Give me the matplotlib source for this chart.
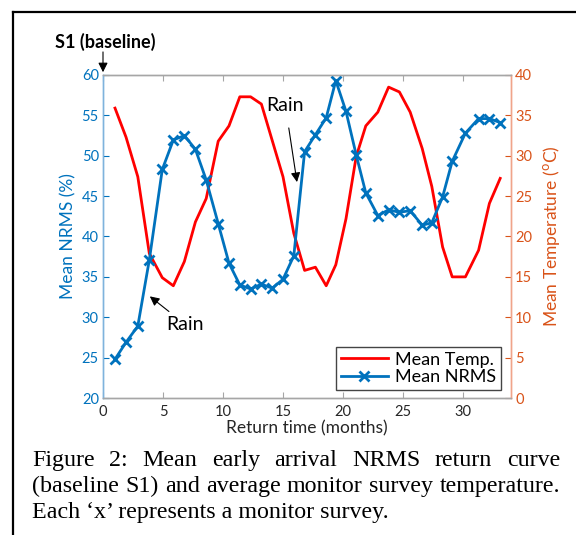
import matplotlib
matplotlib.use("Agg")
import matplotlib.pyplot as plt
from matplotlib.lines import Line2D

# survey return times (months) and values
months = [1.0, 1.92, 2.9, 3.86, 4.94, 5.86, 6.78, 7.7, 8.6, 9.6, 10.5, 11.4,
          12.3, 13.2, 14.1, 15.0, 15.9, 16.8, 17.7, 18.6, 19.4, 20.25, 21.1, 21.9,
          22.9, 23.8, 24.7, 25.6, 26.6, 27.4, 28.3, 29.1, 30.2, 31.3, 32.2, 33.1]
nrms = [24.8, 26.9, 28.9, 37.1, 48.3, 51.95, 52.5, 50.8, 47.0, 41.6, 36.7, 34.0,
        33.5, 34.1, 33.6, 34.7, 37.6, 50.5, 52.6, 54.7, 59.3, 55.5, 50.1, 45.4,
        42.6, 43.3, 43.0, 43.2, 41.4, 41.7, 44.9, 49.3, 52.8, 54.6, 54.6, 54.1]
temp = [35.9, 32.3, 27.4, 17.9, 14.9, 13.9, 16.9, 21.8, 24.7, 31.8, 33.7, 37.3,
        37.3, 36.4, 31.9, 27.4, 20.4, 15.8, 16.2, 13.9, 16.5, 22.2, 29.9, 33.7,
        35.4, 38.5, 37.9, 35.4, 30.9, 26.2, 18.7, 15.0, 15.0, 18.3, 24.1, 27.2]

xticks = [0, 5, 10, 15, 20, 25, 30]
nrms_ticks = [20, 25, 30, 35, 40, 45, 50, 55, 60]
temp_ticks = [0, 5, 10, 15, 20, 25, 30, 35, 40]

caption = ["Figure 2: Mean early arrival NRMS return curve",
           "(baseline S1) and average monitor survey temperature.",
           "Each \u2018x\u2019 represents a monitor survey."]

W, H = 576, 535
BLUE = "#0072BD"
ORANGE = "#D95319"
GRAY = "#A6A6A6"
SANS = ["Lato", "DejaVu Sans"]
plt.rcParams["font.family"] = SANS

def px(x, y):
    return x / W, 1 - y / H

fig = plt.figure(figsize=(W / 100, H / 100), dpi=100)
l, b = px(103, 398)
r, t = px(511, 75)
ax = fig.add_axes([l, b, r - l, t - b])
ax2 = ax.twinx()

ax2.plot(months, temp, color="red", lw=2, label="Mean Temp.")
ax.plot(months, nrms, color=BLUE, lw=2, marker="x", ms=7, mew=2, label="Mean NRMS")
ax.set_zorder(ax2.get_zorder() + 1)
ax.patch.set_visible(False)

ax.set_xlim(0, 34)
ax.set_ylim(20, 60)
ax2.set_ylim(0, 40)
ax.set_xticks(xticks)
ax.set_yticks(nrms_ticks)
ax2.set_yticks(temp_ticks)

ax.tick_params(axis="x", direction="in", colors=GRAY, labelcolor="#262626",
               labelsize=10.5, top=True, length=4, pad=5)
ax.tick_params(axis="y", direction="in", colors=BLUE, labelsize=10.5, length=4, pad=3)
ax2.tick_params(axis="y", direction="in", colors=ORANGE, labelsize=10.5, length=4, pad=3)
for a in (ax, ax2):
    a.spines["top"].set_color(GRAY)
    a.spines["bottom"].set_color(GRAY)
    a.spines["left"].set_color("#7FB3DD")
    a.spines["right"].set_color("#F0A48A")
    for s in a.spines.values():
        s.set_linewidth(1)

ax.set_xlabel("Return time (months)", fontsize=12.5, color="#262626", labelpad=1)
ax.set_ylabel("Mean NRMS (%)", fontsize=12.5, color=BLUE, labelpad=4)
ax2.set_ylabel("Mean Temperature ($^{\\mathrm{o}}$C)", fontsize=12.5, color=ORANGE, labelpad=6)

handles = [Line2D([], [], color="red", lw=2),
           Line2D([], [], color=BLUE, lw=2, marker="x", ms=7, mew=2)]
leg = ax.legend(handles, ["Mean Temp.", "Mean NRMS"], loc="lower right",
                bbox_to_anchor=(0.975, 0.025), fontsize=13, fancybox=False,
                framealpha=1, edgecolor="#444444", borderpad=0.25,
                handlelength=2.6, handletextpad=0.4, labelspacing=0.1,
                borderaxespad=0)
leg.get_frame().set_linewidth(1)

arrow = dict(arrowstyle="-|>", color="black", lw=0.8, mutation_scale=14)
ax.annotate("", xy=(0, 60), xytext=(0, 63.2), arrowprops=arrow, annotation_clip=False)
ax.annotate("Rain", xy=(16.2, 46.4), xytext=(15.2, 56.2), fontsize=14,
            ha="center", va="center", arrowprops=dict(arrow, shrinkA=8))
ax.annotate("Rain", xy=(3.72, 32.8), xytext=(5.3, 29.1), fontsize=14,
            ha="left", va="center", arrowprops=dict(arrow, shrinkA=2))
fig.text(*px(55, 42), "S1 (baseline)", fontsize=13, fontweight="bold",
         ha="left", va="center")

# outer frame
fig.add_artist(Line2D([13 / W, 13 / W], [0, 1 - 12 / H], color="black", lw=1.6))
fig.add_artist(Line2D([13 / W, 1], [1 - 12 / H, 1 - 12 / H], color="black", lw=1.6))

# caption, first two lines justified
cap_left, cap_right = 32, 560
cap_y = [466, 492, 518]
cap_font = dict(family="Liberation Serif", fontsize=17.3, va="baseline")
fig.canvas.draw()
renderer = fig.canvas.get_renderer()
for i, line in enumerate(caption):
    x0, y0 = px(cap_left, cap_y[i])
    if i == len(caption) - 1:
        fig.text(x0, y0, line, ha="left", **cap_font)
        continue
    words = line.split(" ")
    texts = [fig.text(0, y0, w, ha="left", **cap_font) for w in words]
    widths = [tx.get_window_extent(renderer).width for tx in texts]
    gap = (cap_right - cap_left - sum(widths)) / (len(words) - 1)
    pos = cap_left
    for tx, w in zip(texts, widths):
        tx.set_x(pos / W)
        pos += w + gap

fig.savefig("out.png", dpi=100)
